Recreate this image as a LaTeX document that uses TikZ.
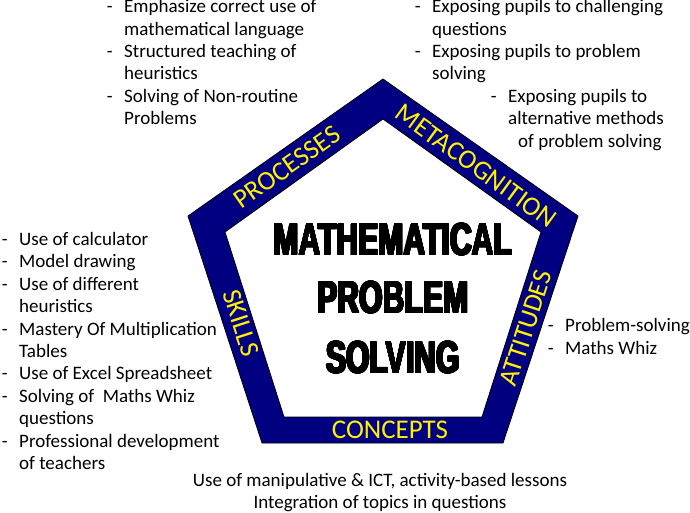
\documentclass[tikz,border=0pt]{standalone}
\usepackage{fontspec}
\usepackage{xcolor}
\usepackage{contour}
\setmainfont{Carlito}
\newfontfamily\titlefont[FakeStretch=0.67]{Liberation Sans}
\definecolor{bandblue}{RGB}{0,0,128}
\newcommand{\dsh}{\llap{-\hspace{11.5pt}}}
\contourlength{0.9pt}
\contournumber{24}

\begin{document}
\begin{tikzpicture}[x=1pt, y=-1pt,
                listline/.style={font=\fontsize{19}{22.4}\selectfont, anchor=base west, inner sep=0pt},
                listcentre/.style={font=\fontsize{19}{22.4}\selectfont, anchor=base, inner sep=0pt},
                bigtitle/.style={font=\titlefont\bfseries\fontsize{45}{50}\selectfont, anchor=base, inner sep=0pt},
                facet/.style={font=\fontsize{27}{30}\selectfont, text=yellow, inner sep=0pt}
            ]
                \useasboundingbox (0,0) rectangle (690,513);

                % Coins du pentagone (extérieur / intérieur)
                \coordinate (o1) at (383,79);
                \coordinate (o2) at (188,216);
                \coordinate (o3) at (262,443);
                \coordinate (o4) at (503,443);
                \coordinate (o5) at (578,216);
                \coordinate (i1) at (383,119);
                \coordinate (i2) at (225,232);
                \coordinate (i3) at (284,417);
                \coordinate (i4) at (482,417);
                \coordinate (i5) at (541,232);

                \fill[bandblue, even odd rule] (o1) -- (o2) -- (o3) -- (o4) -- (o5) -- cycle
                    (i1) -- (i2) -- (i3) -- (i4) -- (i5) -- cycle;
                \draw[black, line width=0.8pt] (o1) -- (o2) -- (o3) -- (o4) -- (o5) -- cycle
                    (i1) -- (i2) -- (i3) -- (i4) -- (i5) -- cycle;

                % Les cinq aspects sur la bande
                \node[facet, rotate=35] (processes) at (287,167) {PROCESSES};
                \node[facet, rotate=-36] (metacognition) at (476,166) {METACOGNITION};
                \node[facet, rotate=72] (attitudes) at (526,328) {ATTITUDES};
                \node[facet, rotate=-72] (skills) at (241,323) {SKILLS};
                \node[facet] (concepts) at (390,430) {CONCEPTS};

                % Titre au centre
                \node[bigtitle] (t1) at (393,255) {\contour{black}{MATHEMATICAL}};
                \node[bigtitle] (t2) at (393,313) {\contour{black}{PROBLEM}};
                \node[bigtitle] (t3) at (393,373) {\contour{black}{SOLVING}};

                % Processus (en haut a gauche)
                \node[listline] (pr1) at (124,12.7) {\dsh Emphasize correct use of};
                \node[listline] (pr2) at (124,35.1) {mathematical language};
                \node[listline] (pr3) at (124,57.5) {\dsh Structured teaching of};
                \node[listline] (pr4) at (124,79.9) {heuristics};
                \node[listline] (pr5) at (124,102.3) {\dsh Solving of Non-routine};
                \node[listline] (pr6) at (124,124.7) {Problems};

                % Metacognition (en haut a droite)
                \node[listline] (mc1) at (432,12.7) {\dsh Exposing pupils to challenging};
                \node[listline] (mc2) at (432,35.1) {questions};
                \node[listline] (mc3) at (432,57.5) {\dsh Exposing pupils to problem};
                \node[listline] (mc4) at (432,79.9) {solving};
                \node[listline] (mc5) at (508,102.3) {\dsh Exposing pupils to};
                \node[listline] (mc6) at (508,124.7) {alternative methods};
                \node[listline] (mc7) at (518,147.1) {of problem solving};

                % Competences (a gauche)
                \node[listline] (sk1) at (19,245.5) {\dsh Use of calculator};
                \node[listline] (sk2) at (19,267.9) {\dsh Model drawing};
                \node[listline] (sk3) at (19,290.3) {\dsh Use of different};
                \node[listline] (sk4) at (19,312.7) {heuristics};
                \node[listline] (sk5) at (19,335.1) {\dsh Mastery Of Multiplication};
                \node[listline] (sk6) at (19,357.5) {Tables};
                \node[listline] (sk7) at (19,379.9) {\dsh Use of Excel Spreadsheet};
                \node[listline] (sk8) at (19,402.3) {\dsh Solving of \ Maths Whiz};
                \node[listline] (sk9) at (19,424.7) {questions};
                \node[listline] (sk10) at (19,447.1) {\dsh Professional development};
                \node[listline] (sk11) at (19,469.5) {of teachers};

                % Attitudes (a droite)
                \node[listline] (at1) at (565,331.7) {\dsh Problem-solving};
                \node[listline] (at2) at (565,354.1) {\dsh Maths Whiz};

                % Concepts (en bas)
                \node[listcentre] (co1) at (380,486.5) {Use of manipulative \& ICT, activity-based lessons};
                \node[listcentre] (co2) at (380,508.9) {Integration of topics in questions};
            \end{tikzpicture}
\end{document}
